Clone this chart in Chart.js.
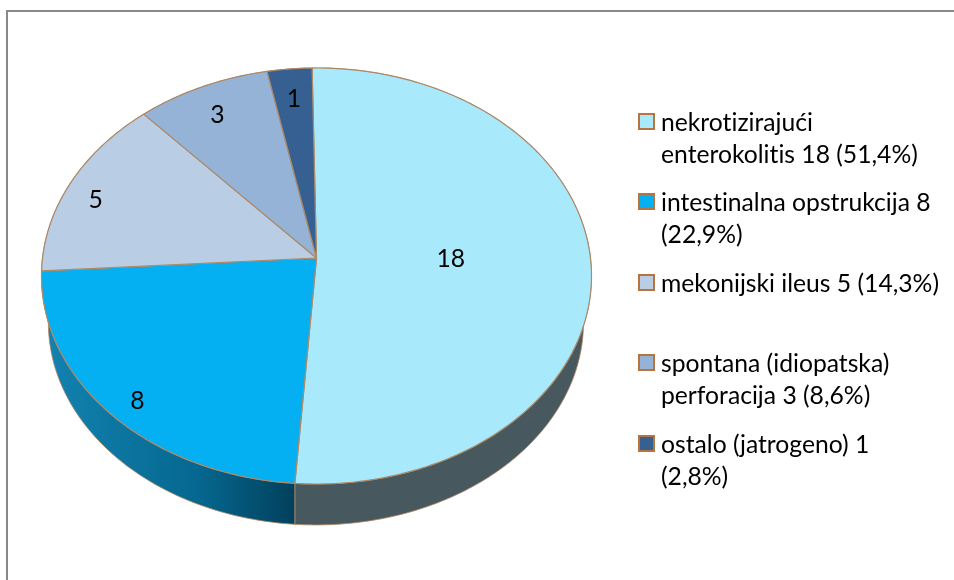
<!DOCTYPE html>
<html>
<head>
<meta charset="utf-8">
<script src="https://cdn.jsdelivr.net/npm/chart.js@4"></script>
<style>
  html, body { margin: 0; padding: 0; background: #fff; }
  #wrap { position: relative; width: 954px; height: 580px; overflow: hidden; font-family: Lato, sans-serif; color: #000; }
  #frame { position: absolute; left: 6px; top: 10px; width: 960px; height: 600px; border: 2px solid #898989; box-sizing: border-box; }
  #pie { position: absolute; left: 0; top: 0; }
  .item { position: absolute; left: 661px; font-size: 24.7px; line-height: 31.5px; white-space: nowrap; font-variant-ligatures: none; }
  .box { position: absolute; left: 638px; width: 17px; height: 17px; box-sizing: border-box; border: 2px solid #b8733f; }
</style>
</head>
<body>
<div id="wrap">
  <div id="frame"></div>
  <canvas id="pie" width="954" height="580"></canvas>
</div>
<script>
// Data
const categories = ['nekrotizirajući enterokolitis', 'intestinalna opstrukcija', 'mekonijski ileus', 'spontana (idiopatska) perforacija', 'ostalo (jatrogeno)'];
const values = [18, 8, 5, 3, 1];
const legendLines = [
    ['nekrotizirajući', 'enterokolitis 18 (51,4%)'],
    ['intestinalna opstrukcija 8', '(22,9%)'],
    ['mekonijski ileus 5 (14,3%)'],
    ['spontana (idiopatska)', 'perforacija 3 (8,6%)'],
    ['ostalo (jatrogeno) 1', '(2,8%)']
];
const sliceColors = ['#a8e9fb', '#05b0f2', '#b9cde5', '#95b3d7', '#366092'];
const legendTops = [105, 185, 266, 346, 427];
const labelRadius = [0.49, 0.9, 0.875, 0.83, 0.83];
const labelSweep = [0.495, 0.475, 0.443, 0.47, 0.5];

// Look of the tilted pie
const stretchX = 275 / 208;
const tilt = -0.0865;
const wallScale = 0.027;
const vanishX = 295, vanishY = 2000;

// Disc point -> screen, perspective tilt of a flat pie
function project(el, angle, f) {
    const u = Math.cos(angle) * f, v = Math.sin(angle) * f;
    const w = 1 + tilt * v;
    const r = el.outerRadius;
    return {
        x: el.x + r * stretchX * u * Math.sqrt(1 - tilt * tilt) / w,
        y: el.y + r * (v + tilt) / w
    };
}
function lower(p) {
    return { x: p.x + wallScale * (vanishX - p.x), y: p.y + wallScale * (vanishY - p.y) };
}
function rimPoints(el) {
    const pts = [];
    const steps = Math.max(4, Math.ceil((el.endAngle - el.startAngle) * 60));
    for (let i = 0; i <= steps; i++) {
        pts.push(project(el, el.startAngle + (el.endAngle - el.startAngle) * i / steps, 1));
    }
    return pts;
}

const tiltedPie = {
    id: 'tiltedPie',
    beforeDatasetDraw(chart) {
        const ctx = chart.ctx;
        const arcs = chart.getDatasetMeta(0).data;
        ctx.save();
        ctx.lineJoin = 'round';

        // side wall first
        arcs.forEach((el, i) => {
            const rim = rimPoints(el);
            const low = rim.map(lower);
            ctx.beginPath();
            rim.forEach((p, k) => k ? ctx.lineTo(p.x, p.y) : ctx.moveTo(p.x, p.y));
            low.reverse().forEach(p => ctx.lineTo(p.x, p.y));
            ctx.closePath();
            if (i === 1) {
                const g = ctx.createLinearGradient(48, 0, 295, 0);
                g.addColorStop(0, '#1282b0');
                g.addColorStop(0.6, '#056890');
                g.addColorStop(1, '#02405c');
                ctx.fillStyle = g;
            } else {
                ctx.fillStyle = '#47595f';
            }
            ctx.fill();
            ctx.strokeStyle = 'rgba(176,134,96,0.8)';
            ctx.lineWidth = 1;
            ctx.stroke();
        });

        // top face
        arcs.forEach((el, i) => {
            const apex = project(el, 0, 0);
            ctx.beginPath();
            ctx.moveTo(apex.x, apex.y);
            rimPoints(el).forEach(p => ctx.lineTo(p.x, p.y));
            ctx.closePath();
            ctx.fillStyle = sliceColors[i];
            ctx.fill();
            ctx.strokeStyle = '#ad8a68';
            ctx.lineWidth = 1.2;
            ctx.stroke();
        });

        // value labels
        ctx.fillStyle = '#000';
        ctx.font = '24.7px Lato, sans-serif';
        ctx.textAlign = 'center';
        ctx.textBaseline = 'middle';
        arcs.forEach((el, i) => {
            const a = el.startAngle + (el.endAngle - el.startAngle) * labelSweep[i];
            const p = project(el, a, labelRadius[i]);
            ctx.fillText(String(values[i]), p.x, p.y);
        });
        ctx.restore();
        return false;
    }
};

const pieChart = new Chart(document.getElementById('pie'), {
    type: 'pie',
    data: {
        labels: categories,
        datasets: [{ data: values, backgroundColor: sliceColors, borderWidth: 0 }]
    },
    options: {
        responsive: false,
        animation: false,
        rotation: -1,
        layout: { padding: { left: 108.5, right: 429.5, top: 68, bottom: 96 } },
        plugins: { legend: { display: false }, tooltip: { enabled: false } }
    },
    plugins: [tiltedPie]
});

// Legend
const wrap = document.getElementById('wrap');
legendLines.forEach((lines, i) => {
    const box = document.createElement('div');
    box.className = 'box';
    box.style.top = (legendTops[i] + 8) + 'px';
    box.style.background = sliceColors[i];
    wrap.appendChild(box);
    const item = document.createElement('div');
    item.className = 'item';
    item.style.top = (legendTops[i] + 1) + 'px';
    item.innerHTML = lines.join('<br>');
    wrap.appendChild(item);
});
</script>
</body>
</html>
